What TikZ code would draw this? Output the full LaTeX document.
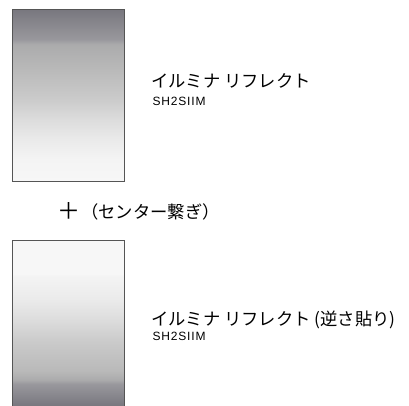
\documentclass[tikz,border=0pt]{standalone}
\usepackage{fontspec}
\setmainfont{Liberation Sans}
\newfontfamily\jp{Noto Sans CJK JP}
\newfontfamily\codefont[LetterSpace=7]{Liberation Sans}
\definecolor{ga}{HTML}{78777E}
\definecolor{gb}{HTML}{99989D}
\definecolor{gc}{HTML}{ABABAC}
\definecolor{gd}{HTML}{B9B9B9}
\definecolor{ge}{HTML}{CBCBCB}
\definecolor{gf}{HTML}{DCDCDC}
\definecolor{gg}{HTML}{EAEAEA}
\definecolor{gh}{HTML}{F4F4F4}
\definecolor{gi}{HTML}{F7F7F7}
\definecolor{frame}{HTML}{555555}
\pgfdeclareverticalshading{topgrad}{100bp}{%
 color(0bp)=(gi); color(25bp)=(gi); color(31.4bp)=(gh); color(37.2bp)=(gg);
 color(43bp)=(gf); color(48.8bp)=(ge); color(57.6bp)=(gd); color(64.8bp)=(gc);
 color(66.2bp)=(gb); color(75bp)=(ga); color(100bp)=(ga)}
\pgfdeclareverticalshading{botgrad}{100bp}{%
 color(0bp)=(ga); color(25bp)=(ga); color(31.7bp)=(gb); color(32.9bp)=(gc);
 color(35.6bp)=(gd); color(44.7bp)=(ge); color(50.8bp)=(gf); color(56.8bp)=(gg);
 color(64.4bp)=(gh); color(64.5bp)=(gi); color(75bp)=(gi); color(100bp)=(gi)}
\tikzset{
  panel/.style={draw=frame, line width=1pt},
  jptext/.style={font=\jp\fontsize{17.3pt}{19pt}\selectfont, inner sep=0pt, anchor=base west},
  code/.style={font=\codefont\fontsize{12pt}{14pt}\selectfont, inner sep=0pt, anchor=base west}
}
\begin{document}
\begin{tikzpicture}[x=1pt,y=-1pt]
\useasboundingbox (0,0) rectangle (409,405);
\begin{scope}
\clip (0,0) rectangle (409,405);
\shade[shading=topgrad, panel] (12.7,9.3) rectangle (124.7,181) coordinate (topbr);
\shade[shading=botgrad, panel] (12.7,240.3) rectangle (124.7,406) coordinate (botbr);
\end{scope}
\node[jptext] (t1) at (151,87.5) {イルミナ リフレクト};
\node[code] (c1) at (152.3,105) {SH2SIIM};
\node[font=\jp\fontsize{23pt}{25pt}\selectfont, inner sep=0pt, anchor=base west] (plus) at (57,219) {＋};
\node[jptext] (mid) at (81,218) {（センター繋ぎ）};
\node[jptext] (t2) at (151,325.5) {イルミナ リフレクト (逆さ貼り)};
\node[code] (c2) at (152.3,340.5) {SH2SIIM};
\end{tikzpicture}
\end{document}
